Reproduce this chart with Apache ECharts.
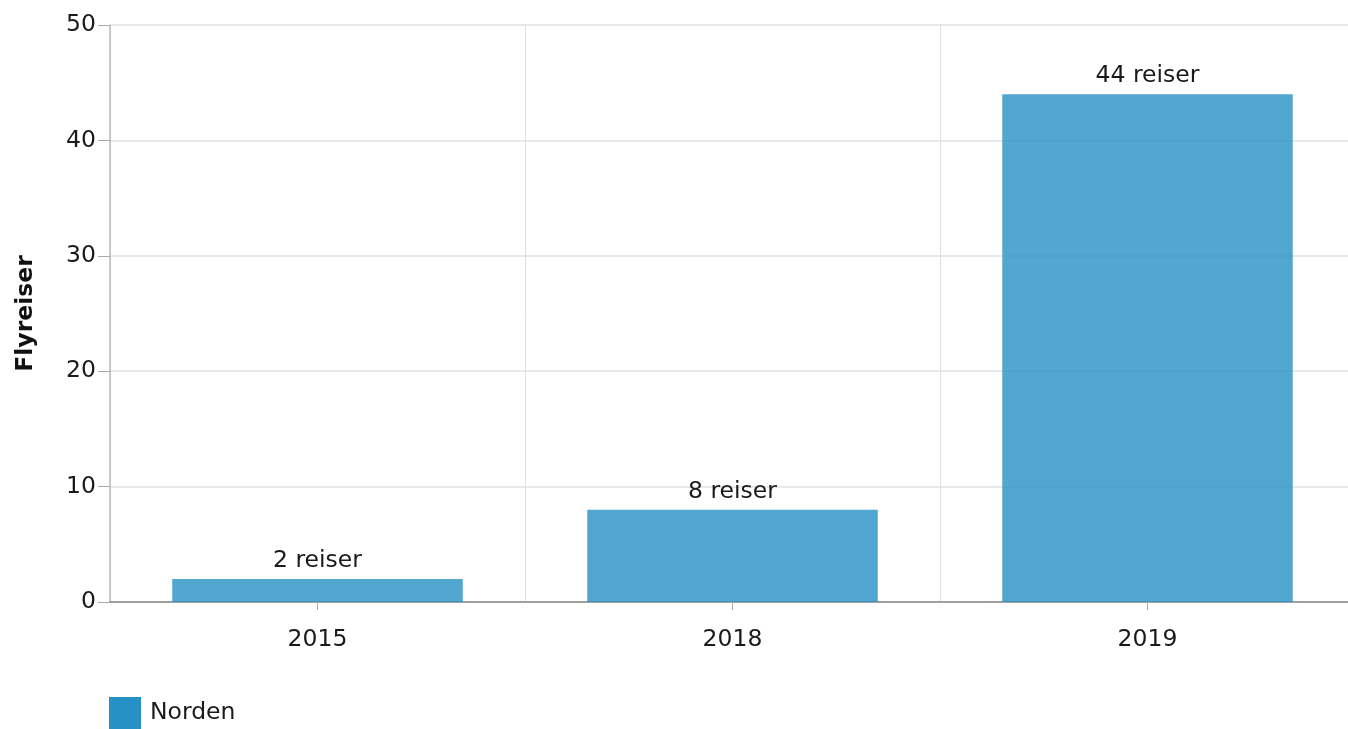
<!DOCTYPE html>
<html><head><meta charset="utf-8">
<script src="https://cdn.jsdelivr.net/npm/echarts@6/dist/echarts.min.js"></script>
<style>html,body{margin:0;padding:0;background:#fff}#c{width:1348px;height:729px}</style>
</head><body><div id="c"></div>
<script>
const categories = ['2015', '2018', '2019'];
const values = [2, 8, 44];
const seriesName = 'Norden';
const yAxisName = 'Flyreiser';
const labelSuffix = ' reiser';

const chart = echarts.init(document.getElementById('c'));
const font = 'DejaVu Sans, Verdana, sans-serif';
const fs = 23.5;
chart.setOption({
  animation: false,
  textStyle: { fontFamily: font },
  grid: { left: 110, width: 1245, top: 25, bottom: 127, outerBoundsMode: 'none' },
  legend: {
    left: 104, bottom: -5, itemWidth: 32, itemHeight: 32, itemGap: 8,
    icon: 'rect',
    textStyle: { fontSize: fs, color: '#1a1a1a', fontFamily: font, padding: [4, 0, 0, 4] },
    data: [{ name: seriesName, itemStyle: { color: '#2591C4' } }]
  },
  xAxis: {
    type: 'category', data: categories,
    axisLine: { lineStyle: { color: '#888', width: 1.5 } },
    axisTick: { show: true, alignWithLabel: true, length: 8, lineStyle: { color: '#aaa' } },
    axisLabel: { fontSize: fs, color: '#1a1a1a', margin: 26, fontFamily: font },
    splitLine: { show: true, lineStyle: { color: '#e0e0e0' } }
  },
  yAxis: {
    type: 'value', min: 0, max: 50, interval: 10,
    name: yAxisName, nameLocation: 'middle', nameGap: 72,
    nameTextStyle: { fontSize: fs, fontWeight: 'bold', color: '#111', fontFamily: font },
    axisLine: { show: true, lineStyle: { color: '#bbb', width: 1.5 } },
    axisTick: { show: true, length: 12, lineStyle: { color: '#aaa' } },
    axisLabel: { fontSize: fs, color: '#1a1a1a', margin: 14, fontFamily: font },
    splitLine: { show: true, lineStyle: { color: '#e0e0e0', width: 1.5 } }
  },
  series: [{
    name: seriesName, type: 'bar', data: values, barWidth: '70%',
    itemStyle: { color: 'rgba(37,145,196,0.8)' },
    label: { show: true, position: 'top', distance: 6, fontSize: fs, color: '#1a1a1a', fontFamily: font,
      formatter: p => p.value + labelSuffix }
  }]
});
</script></body></html>
